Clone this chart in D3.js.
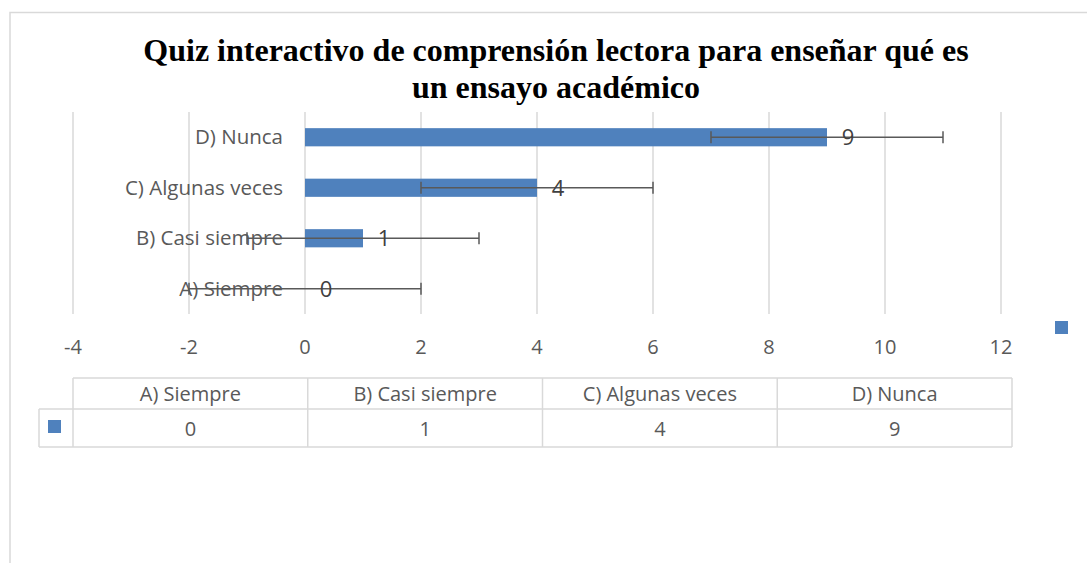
<!DOCTYPE html>
<html>
<head>
<meta charset="utf-8">
<script src="https://cdn.jsdelivr.net/npm/d3@7"></script>
<style>
  body { margin: 0; background: #fff; }
  svg text { font-family: "Open Sans", "Noto Sans", sans-serif; }
</style>
</head>
<body>
<svg id="canvas" width="1087" height="563"></svg>
<script>
// data
const categories = ["A) Siempre", "B) Casi siempre", "C) Algunas veces", "D) Nunca"];
const values = [0, 1, 4, 9];
const errorAmount = 2;
const xTicks = [-4, -2, 0, 2, 4, 6, 8, 10, 12];
const titleLines = ["Quiz interactivo de comprensión lectora para enseñar qué es", "un ensayo académico"];

const svg = d3.select("#canvas");
const barColor = "#4f81bd";
const textColor = "#595959";
const gridColor = "#d9d9d9";

// outer chart border (only top and left visible)
svg.append("path")
    .attr("d", "M10,563 V12.5 H1087")
    .attr("fill", "none").attr("stroke", gridColor).attr("stroke-width", 1.5);

// title
svg.append("g").selectAll("text")
    .data(titleLines).enter().append("text")
    .attr("x", 556).attr("y", (d, i) => 61 + i * 37)
    .attr("text-anchor", "middle")
    .style("font-family", "'Liberation Serif', 'Times New Roman', serif")
    .style("font-weight", "bold").style("font-size", "32px")
    .attr("fill", "#000")
    .text(d => d);

const plotTop = 112, plotBottom = 314;
const x = d3.scaleLinear().domain([-4, 12]).range([73, 1001]);
const y = d3.scaleBand().domain(categories.slice().reverse())
    .range([plotTop, plotBottom]).paddingInner(0.64).paddingOuter(0.32);

// gridlines
svg.append("g").selectAll("line")
    .data(xTicks).enter().append("line")
    .attr("x1", d => x(d)).attr("x2", d => x(d))
    .attr("y1", plotTop).attr("y2", plotBottom)
    .attr("stroke", gridColor).attr("stroke-width", 1.5);

// tick labels
svg.append("g").selectAll("text")
    .data(xTicks).enter().append("text")
    .attr("x", d => x(d)).attr("y", 354)
    .attr("text-anchor", "middle")
    .style("font-size", "20px").attr("fill", textColor)
    .text(d => d < 0 ? "-" + Math.abs(d) : d);

// category labels
svg.append("g").selectAll("text")
    .data(categories).enter().append("text")
    .attr("x", 283).attr("y", d => y(d) + y.bandwidth() / 2 + 7)
    .attr("text-anchor", "end")
    .style("font-size", "20.5px").attr("fill", textColor)
    .text(d => d);

// bars
svg.append("g").selectAll("rect")
    .data(values).enter().append("rect")
    .attr("x", x(0))
    .attr("y", (d, i) => y(categories[i]))
    .attr("width", d => x(d) - x(0))
    .attr("height", y.bandwidth())
    .attr("fill", barColor);

// error bars
const err = svg.append("g").attr("stroke", "#595959").attr("stroke-width", 1.5);
values.forEach((v, i) => {
    const cy = y(categories[i]) + y.bandwidth() / 2;
    err.append("line")
        .attr("x1", x(v - errorAmount)).attr("x2", x(v + errorAmount))
        .attr("y1", cy).attr("y2", cy);
    [v - errorAmount, v + errorAmount].forEach(e => {
        err.append("line")
            .attr("x1", x(e)).attr("x2", x(e))
            .attr("y1", cy - 6).attr("y2", cy + 6);
    });
});

// data labels
svg.append("g").selectAll("text")
    .data(values).enter().append("text")
    .attr("x", d => x(d) + 21)
    .attr("y", (d, i) => y(categories[i]) + y.bandwidth() / 2 + 8)
    .attr("text-anchor", "middle")
    .style("font-size", "22px").attr("fill", "#404040")
    .text(d => d);

// legend key at right
svg.append("rect")
    .attr("x", 1055).attr("y", 321).attr("width", 13).attr("height", 13)
    .attr("fill", barColor);

// data table
const colX = d3.scaleBand().domain(categories).range([73, 1012]);
const tbl = svg.append("g").attr("stroke", gridColor).attr("stroke-width", 1.5).attr("fill", "none");
const rowTop = 378, rowMid = 409, rowBot = 447;
tbl.append("line").attr("x1", 73).attr("x2", 1012).attr("y1", rowTop).attr("y2", rowTop);
tbl.append("line").attr("x1", 39).attr("x2", 1012).attr("y1", rowMid).attr("y2", rowMid);
tbl.append("line").attr("x1", 39).attr("x2", 1012).attr("y1", rowBot).attr("y2", rowBot);
tbl.append("line").attr("x1", 39).attr("x2", 39).attr("y1", rowMid).attr("y2", rowBot);
categories.forEach(c => {
    tbl.append("line").attr("x1", colX(c)).attr("x2", colX(c)).attr("y1", rowTop).attr("y2", rowBot);
});
tbl.append("line").attr("x1", 1012).attr("x2", 1012).attr("y1", rowTop).attr("y2", rowBot);

svg.append("g").selectAll("text")
    .data(categories).enter().append("text")
    .attr("x", d => colX(d) + colX.bandwidth() / 2).attr("y", 401)
    .attr("text-anchor", "middle")
    .style("font-size", "20px").attr("fill", textColor)
    .text(d => d);

svg.append("g").selectAll("text")
    .data(values).enter().append("text")
    .attr("x", (d, i) => colX(categories[i]) + colX.bandwidth() / 2).attr("y", 436)
    .attr("text-anchor", "middle")
    .style("font-size", "20px").attr("fill", textColor)
    .text(d => d);

svg.append("rect")
    .attr("x", 48).attr("y", 420).attr("width", 13).attr("height", 13)
    .attr("fill", barColor);
</script>
</body>
</html>
